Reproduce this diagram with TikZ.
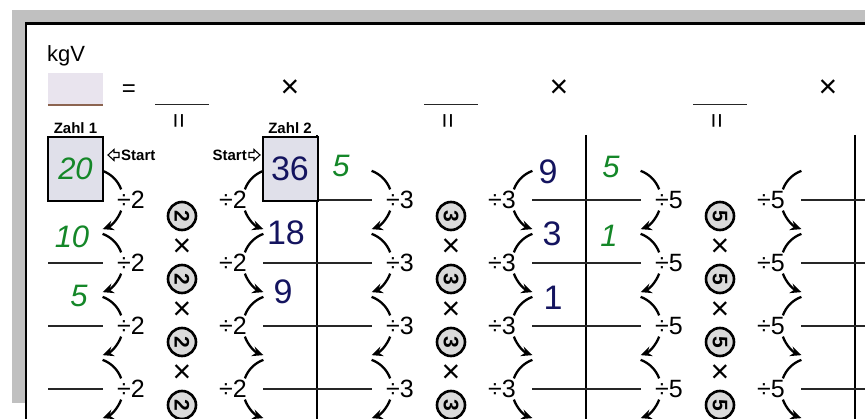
\documentclass[tikz,border=0pt]{standalone}
\usepackage{fontspec}
\setmainfont{Liberation Sans}
\usetikzlibrary{arrows.meta, positioning}
\definecolor{sheetgray}{RGB}{192, 192, 192}
\definecolor{cellshade}{RGB}{224, 224, 234}
\definecolor{kgvshade}{RGB}{233, 228, 238}
\definecolor{kgvline}{RGB}{140, 100, 80}
\definecolor{primeshade}{RGB}{218, 218, 218}
\definecolor{pengreen}{RGB}{20, 135, 40}
\definecolor{penblue}{RGB}{20, 20, 95}

\begin{document}
\begin{tikzpicture}[x=1pt, y=-1pt,
                    valbox/.style={draw, line width=2pt, fill=cellshade, minimum width=55, minimum height=64, inner sep=0pt},
                    primeball/.style={circle, draw, line width=2.6pt, fill=primeshade, minimum size=28, inner sep=0pt, rotate=-90, font=\bfseries\fontsize{21}{21}\selectfont},
                    divtext/.style={font=\fontsize{25}{25}\selectfont},
                    timestext/.style={font=\fontsize{32}{32}\selectfont},
                    boldlabel/.style={font=\bfseries\fontsize{15}{15}\selectfont, inner sep=1pt},
                    gridline/.style={line width=1.4pt, black!85},
                    colline/.style={line width=2.5pt},
                    bendline/.style={line width=2.3pt},
                    bendarrow/.style={line width=2.3pt, -{Stealth[length=11pt, width=10pt]}},
                    startmark/.style={line width=1.1pt, fill=white, line join=miter},
                    greenpen/.style={text=pengreen, font=\itshape\fontsize{31}{31}\selectfont},
                    bluepen/.style={text=penblue, font=\fontsize{34}{34}\selectfont}]
                    \useasboundingbox (0,0) rectangle (865,419);

                    % sheet and frame
                    \fill[sheetgray] (12,10) rectangle (865,403);
                    \draw[fill=white, line width=2.5pt] (26,23.5) rectangle (880,430);

                    % kgV line
                    \node[anchor=base west, font=\fontsize{22}{22}\selectfont, inner sep=0pt] (kgv) at (47,62) {kgV};
                    \node[fill=kgvshade, minimum width=55, minimum height=32, inner sep=0pt] (kgvfield) at (75.5,89) {};
                    \draw[kgvline, line width=1.5pt] (kgvfield.south west) -- (kgvfield.south east);
                    \node[font=\fontsize{24}{24}\selectfont] (equals) at (129,91) {=};

                    % one block for each prime
                    \foreach \b/\p in {0/2, 1/3, 2/5} {
                      \pgfmathsetmacro\cx{182+269*\b}
                      \coordinate (prod-\b) at (\cx,104.5);
                      \draw[gridline] ([xshift=-27pt]prod-\b) -- ([xshift=27pt]prod-\b);
                      \node[rotate=90, font=\fontsize{26}{26}\selectfont] (same-\b) at (\cx-1,121) {=};
                      \node[timestext] (mult-\b) at (\cx+108,89) {×};
                      \draw[colline] (\cx+135,135) -- (\cx+135,430);
                      \foreach \r in {0,...,3} {
                        \pgfmathsetmacro\ry{200+63*\r}
                        \draw[gridline] (\cx+81,\ry) -- (\cx+190,\ry);
                        \node[divtext] (dl-\b-\r) at (\cx-51,\ry) {÷\p};
                        \node[divtext] (dr-\b-\r) at (\cx+51,\ry) {÷\p};
                        \node[primeball] (pb-\b-\r) at (\cx,\ry+16) {\p};
                        \coordinate (al-\b-\r) at (\cx-90,\ry);
                        \coordinate (ar-\b-\r) at (\cx+92,\ry);
                        \draw[bendline] (al-\b-\r) ++(-70:31) arc[start angle=-70, end angle=-20, radius=31];
                        \draw[bendarrow] (al-\b-\r) ++(20:31) arc[start angle=20, end angle=70, radius=31];
                        \draw[bendline] (ar-\b-\r) ++(-110:31) arc[start angle=-110, end angle=-160, radius=31];
                        \draw[bendarrow] (ar-\b-\r) ++(160:31) arc[start angle=160, end angle=110, radius=31];
                      }
                      \foreach \r in {0,1,2}
                        \node[timestext] (tm-\b-\r) at (\cx,248+63*\r) {×};
                    }
                    \foreach \r in {1,2,3}
                      \draw[gridline] (48,200+63*\r) -- (103,200+63*\r);

                    % start numbers
                    \node[valbox, greenpen] (zahl1) at (75.5,169) {20};
                    \node[valbox, bluepen] (zahl2) at (290,169) {36};
                    \node[boldlabel, above=1pt of zahl1] (zahl1-label) {Zahl 1};
                    \node[boldlabel, above=1pt of zahl2] (zahl2-label) {Zahl 2};
                    \node[boldlabel, anchor=west] (start1) at (120,155) {Start};
                    \node[boldlabel, anchor=east] (start2) at (248,155) {Start};
                    \draw[startmark] ([xshift=-1pt]start1.west) -- ++(0,2.5) -- ++(-5,0) -- ++(0,3) -- ++(-6,-5.5) -- ++(6,-5.5) -- ++(0,3) -- ++(5,0) -- cycle;
                    \draw[startmark] ([xshift=1pt]start2.east) -- ++(0,2.5) -- ++(5,0) -- ++(0,3) -- ++(6,-5.5) -- ++(-6,-5.5) -- ++(0,3) -- ++(-5,0) -- cycle;

                    % written results
                    \node[greenpen] (g10) at (72,237) {10};
                    \node[greenpen] (g5a) at (79,296) {5};
                    \node[greenpen] (g5b) at (341,166) {5};
                    \node[greenpen] (g5c) at (611,167) {5};
                    \node[greenpen] (g1) at (609,236) {1};
                    \node[bluepen] (b18) at (286,233) {18};
                    \node[bluepen] (b9a) at (283,292) {9};
                    \node[bluepen] (b9b) at (548,172) {9};
                    \node[bluepen] (b3) at (552,234) {3};
                    \node[bluepen] (b1) at (553,298) {1};
                \end{tikzpicture}
\end{document}
